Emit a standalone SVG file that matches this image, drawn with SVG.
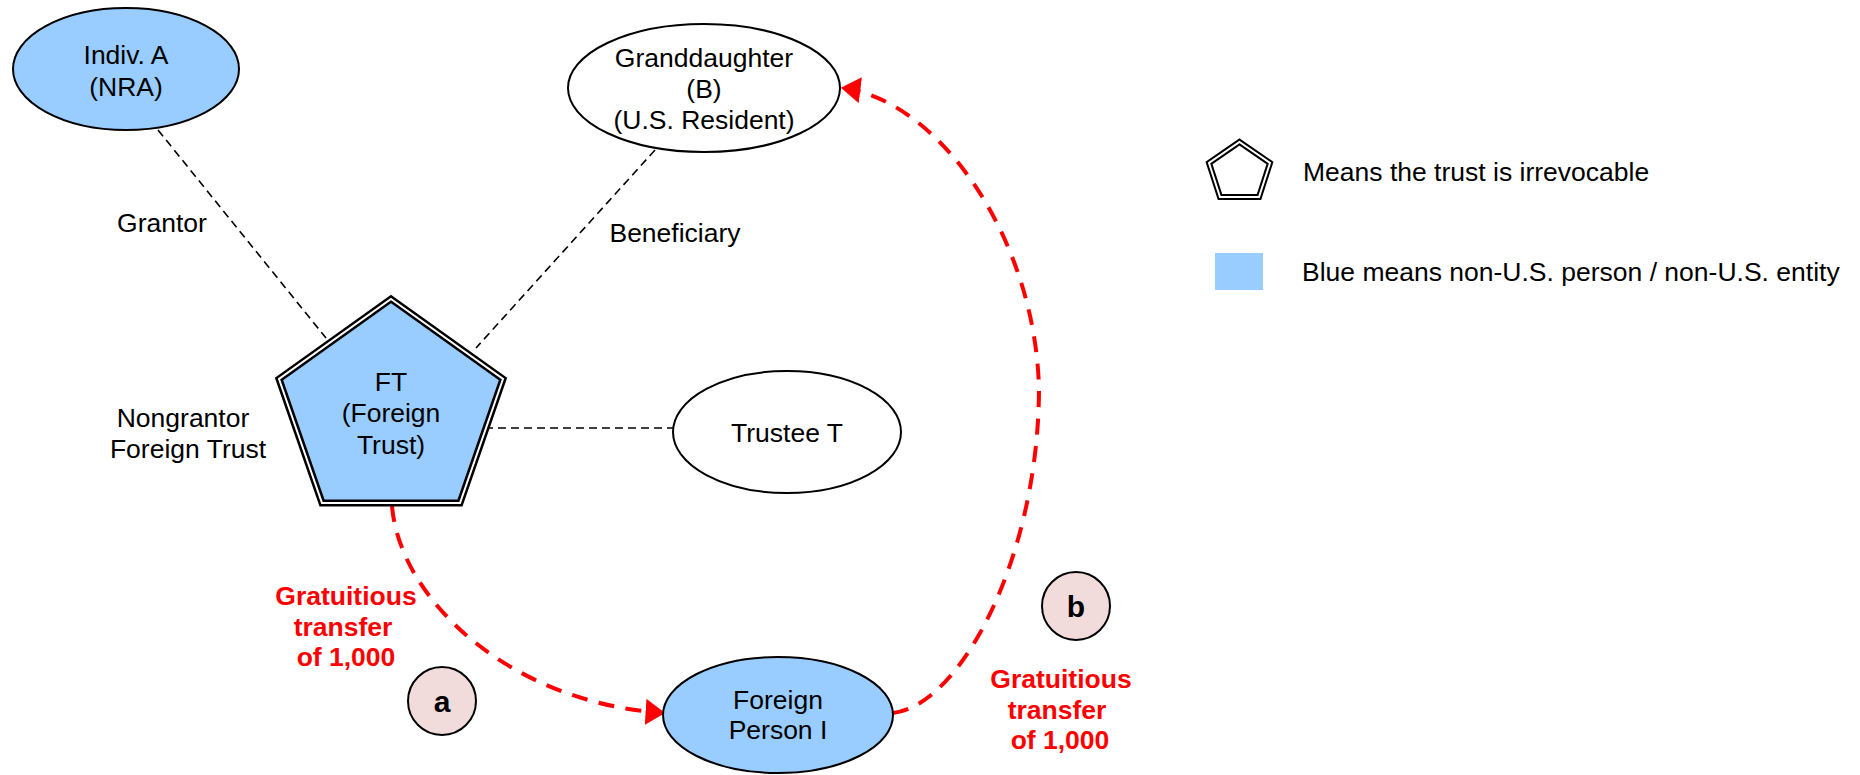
<svg xmlns="http://www.w3.org/2000/svg" width="1860" height="775" viewBox="0 0 1860 775">
<defs>
<style>
text{font-family:"Liberation Sans",Arial,sans-serif;font-size:26.5px;fill:#000}
.c{text-anchor:middle}
.red{fill:#ff0000;font-weight:bold}
.node{stroke:#000;stroke-width:2}
.blue{fill:#99ccff}
.white{fill:#ffffff}
.pink{fill:#f2dcdb}
.dash{fill:none;stroke:#000;stroke-width:1.6;stroke-dasharray:8 5}
.rdash{fill:none;stroke:#ff0000;stroke-width:4;stroke-dasharray:16 11.5}
.pentOut{stroke:#000;stroke-width:7;stroke-linejoin:miter}
.pentIn{fill:none;stroke:#fff;stroke-width:2;stroke-linejoin:miter}
.lbl{font-weight:bold;font-size:30px}
</style>
<marker id="arr" markerUnits="userSpaceOnUse" markerWidth="20" markerHeight="26" viewBox="0 0 18 24" refX="17" refY="12" orient="auto">
<path d="M0,0 L18,12 L0,24 z" fill="#ff0000"/>
</marker>
</defs>
<rect width="1860" height="775" fill="#fff"/>

<g id="connectors">
<line class="dash" x1="158" y1="130" x2="326" y2="338"/>
<line class="dash" x1="655" y1="150" x2="476" y2="348"/>
<line class="dash" x1="485" y1="428" x2="673" y2="428"/>
<path class="rdash" d="M392,506 C400,600 510,703 664,713" marker-end="url(#arr)"/>
<path class="rdash" d="M893,713 C960,705 1038,560 1039,390 C1036,240 940,100 842,88" marker-end="url(#arr)"/>
</g>

<g id="indivA">
<ellipse class="node blue" cx="126" cy="69" rx="113" ry="61"/>
<text class="c" x="126" y="64">Indiv. A</text>
<text class="c" x="126" y="96">(NRA)</text>
</g>

<g id="granddaughter">
<ellipse class="node white" cx="704" cy="88" rx="136" ry="64"/>
<text class="c" x="704" y="67">Granddaughter</text>
<text class="c" x="704" y="98">(B)</text>
<text class="c" x="704" y="129">(U.S. Resident)</text>
</g>

<g id="ft">
<polygon class="pentOut blue" points="391,299 503,379 460,503 322,503 279,379"/>
<polygon class="pentIn" points="391,299 503,379 460,503 322,503 279,379"/>
<text class="c" x="391" y="391">FT</text>
<text class="c" x="391" y="422">(Foreign</text>
<text class="c" x="391" y="454">Trust)</text>
</g>

<g id="trustee">
<ellipse class="node white" cx="787" cy="432" rx="114" ry="61"/>
<text class="c" x="787" y="442">Trustee T</text>
</g>

<g id="foreignPerson">
<ellipse class="node blue" cx="778" cy="715" rx="115" ry="58"/>
<text class="c" x="778" y="709">Foreign</text>
<text class="c" x="778" y="739">Person I</text>
</g>

<g id="circleA">
<circle class="node pink" cx="442" cy="701" r="34"/>
<text class="c lbl" x="442" y="712">a</text>
</g>

<g id="circleB">
<circle class="node pink" cx="1076" cy="606" r="34"/>
<text class="c lbl" x="1076" y="617">b</text>
</g>

<g id="labels">
<text class="c" x="162" y="232">Grantor</text>
<text class="c" x="675" y="242">Beneficiary</text>
<text class="c" x="183" y="427">Nongrantor</text>
<text class="c" x="188" y="458">Foreign Trust</text>
<text class="c red" x="346" y="605">Gratuitious</text>
<text class="c red" x="343" y="636">transfer</text>
<text class="c red" x="346" y="666">of 1,000</text>
<text class="c red" x="1061" y="688">Gratuitious</text>
<text class="c red" x="1057" y="719">transfer</text>
<text class="c red" x="1060" y="749">of 1,000</text>
</g>

<g id="legend">
<polygon class="pentOut white" points="1239.5,142 1270,163 1259,197 1220,197 1209,163" style="stroke-width:6"/>
<polygon class="pentIn" points="1239.5,142 1270,163 1259,197 1220,197 1209,163"/>
<text x="1303" y="181">Means the trust is irrevocable</text>
<rect class="blue" x="1215" y="253" width="48" height="37"/>
<text x="1302" y="281">Blue means non-U.S. person / non-U.S. entity</text>
</g>
</svg>
